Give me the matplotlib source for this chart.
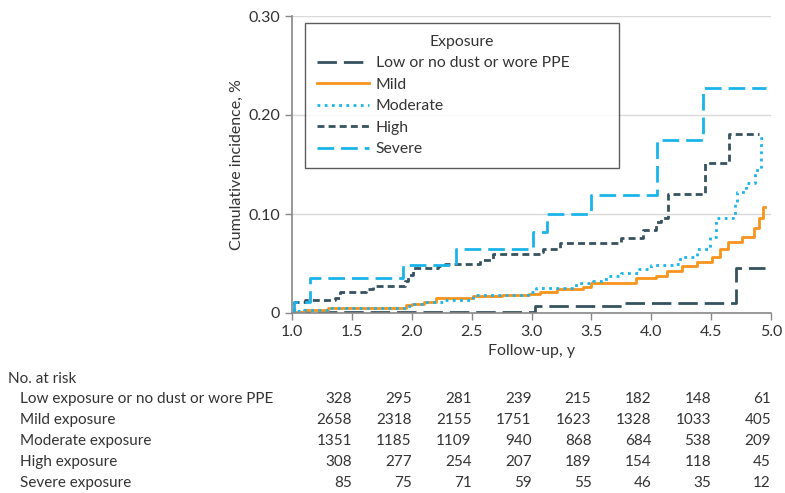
import matplotlib
matplotlib.use("Agg")
import matplotlib.pyplot as plt
import matplotlib.transforms as mtransforms

plt.rcParams['font.family'] = ['Lato', 'DejaVu Sans']

# cumulative incidence step curves (time in years, incidence)
low_t = [1.0, 1.12, 3.03, 3.76, 4.71, 4.95]
low_y = [0, 0.001, 0.007, 0.010, 0.045, 0.045]

mild_t = [1.0, 1.03, 1.1, 1.3, 1.9, 1.95, 2.0, 2.1, 2.2, 2.51, 2.75, 2.98, 3.07, 3.21, 3.43, 3.50,
          3.87, 4.04, 4.13, 4.26, 4.38, 4.51, 4.57, 4.64, 4.76, 4.86, 4.90, 4.93, 4.95]
mild_y = [0, 0.001, 0.003, 0.005, 0.005, 0.008, 0.009, 0.011, 0.015, 0.017, 0.018, 0.019, 0.0215, 0.024,
          0.0265, 0.030, 0.035, 0.037, 0.042, 0.047, 0.052, 0.057, 0.065, 0.072, 0.077, 0.086, 0.096,
          0.107, 0.107]

moderate_t = [1.0, 1.03, 1.1, 1.3, 1.9, 1.95, 2.0, 2.1, 2.28, 2.51, 2.97, 3.04, 3.37, 3.51, 3.62, 3.75,
              3.9, 4.0, 4.2, 4.24, 4.38, 4.49, 4.54, 4.68, 4.70, 4.72, 4.79, 4.87, 4.92, 4.95]
moderate_y = [0, 0.002, 0.003, 0.005, 0.005, 0.007, 0.009, 0.011, 0.013, 0.018, 0.0215, 0.025, 0.030,
              0.032, 0.037, 0.040, 0.044, 0.048, 0.049, 0.057, 0.065, 0.077, 0.096, 0.099, 0.112, 0.122,
              0.131, 0.144, 0.177, 0.177]

high_t = [1.0, 1.02, 1.11, 1.36, 1.40, 1.62, 1.68, 1.94, 1.97, 2.01, 2.22, 2.28, 2.57, 2.68, 3.07, 3.10,
          3.24, 3.75, 3.93, 4.04, 4.08, 4.14, 4.45, 4.65, 4.90]
high_y = [0, 0.011, 0.013, 0.015, 0.021, 0.024, 0.027, 0.032, 0.038, 0.045, 0.047, 0.050, 0.054, 0.060,
          0.062, 0.065, 0.071, 0.076, 0.084, 0.092, 0.096, 0.120, 0.152, 0.181, 0.181]

severe_t = [1.0, 1.02, 1.15, 1.93, 2.37, 3.01, 3.13, 3.50, 4.05, 4.43, 4.96]
severe_y = [0, 0.011, 0.035, 0.048, 0.065, 0.082, 0.100, 0.119, 0.175, 0.227, 0.227]

risk_times = [1.5, 2.0, 2.5, 3.0, 3.5, 4.0, 4.5, 5.0]
risk_groups = ['Low exposure or no dust or wore PPE', 'Mild exposure', 'Moderate exposure',
               'High exposure', 'Severe exposure']
risk_counts = [
    [328, 295, 281, 239, 215, 182, 148, 61],
    [2658, 2318, 2155, 1751, 1623, 1328, 1033, 405],
    [1351, 1185, 1109, 940, 868, 684, 538, 209],
    [308, 277, 254, 207, 189, 154, 118, 45],
    [85, 75, 71, 59, 55, 46, 35, 12],
]

dark = '#35525f'
blue = '#1ab4ea'
orange = '#f7941d'
txt = '#333333'

W, H = 785, 493
fig = plt.figure(figsize=(W / 100, H / 100), dpi=100)
ax = fig.add_axes([292 / W, 1 - 313 / H, (771 - 292) / W, (313 - 16) / H])

lw = 2.0
ax.plot(low_t, low_y, drawstyle='steps-post', color=dark, lw=lw, dashes=(7, 2.5),
        label='Low or no dust or wore PPE')
ax.plot(mild_t, mild_y, drawstyle='steps-post', color=orange, lw=lw, label='Mild')
ax.plot(moderate_t, moderate_y, drawstyle='steps-post', color=blue, lw=lw, dashes=(1, 1.6),
        label='Moderate')
ax.plot(high_t, high_y, drawstyle='steps-post', color=dark, lw=lw, dashes=(2.5, 1.5), label='High')
ax.plot(severe_t, severe_y, drawstyle='steps-post', color=blue, lw=lw, dashes=(6, 2.5), label='Severe')

ax.set_xlim(1.0, 5.0)
ax.set_ylim(0, 0.30)
ax.set_xticks([1.0, 1.5, 2.0, 2.5, 3.0, 3.5, 4.0, 4.5, 5.0])
ax.set_xticklabels(['1.0', '1.5', '2.0', '2.5', '3.0', '3.5', '4.0', '4.5', '5.0'])
ax.set_yticks([0, 0.10, 0.20, 0.30])
ax.set_yticklabels(['0', '0.10', '0.20', '0.30'])
ax.tick_params(colors='#888888', labelcolor=txt, labelsize=11.5, length=5, width=1)
ax.grid(axis='y', color='#d9d9d9', lw=1)
ax.set_axisbelow(True)
for s in ['top', 'right']:
    ax.spines[s].set_visible(False)
for s in ['left', 'bottom']:
    ax.spines[s].set_color('#888888')
    ax.spines[s].set_linewidth(1.2)

ax.set_xlabel('Follow-up, y', fontsize=11.5, color=txt, labelpad=4)
ax.set_ylabel('Cumulative incidence, %', fontsize=11.5, color=txt, labelpad=3)

leg = ax.legend(title='Exposure', loc='upper left', mode='expand',
                bbox_to_anchor=(13 / 479, 1 - 7 / 297, 314 / 479, 0),
                fontsize=11.3, title_fontsize=11.3, frameon=True, fancybox=False, handlelength=3.3,
                borderpad=0.75, labelspacing=0.48, handletextpad=0.45, borderaxespad=0)
leg.get_frame().set_edgecolor('#333333')
leg.get_frame().set_linewidth(1)
for t in leg.get_texts():
    t.set_color(txt)
leg.get_title().set_color(txt)

# number at risk table
tr = mtransforms.blended_transform_factory(ax.transData, fig.transFigure)
fig.text(8 / W, 1 - 379 / H, 'No. at risk', fontsize=11, color=txt, va='center')
row_y = [399, 420, 441, 462, 483]
for name, counts, py in zip(risk_groups, risk_counts, row_y):
    fig.text(20 / W, 1 - py / H, name, fontsize=11, color=txt, va='center')
    for t, n in zip(risk_times, counts):
        ax.text(t, 1 - py / H, str(n), transform=tr, fontsize=11, color=txt, ha='right',
                va='center', clip_on=False)

fig.savefig('out.png', dpi=100)
